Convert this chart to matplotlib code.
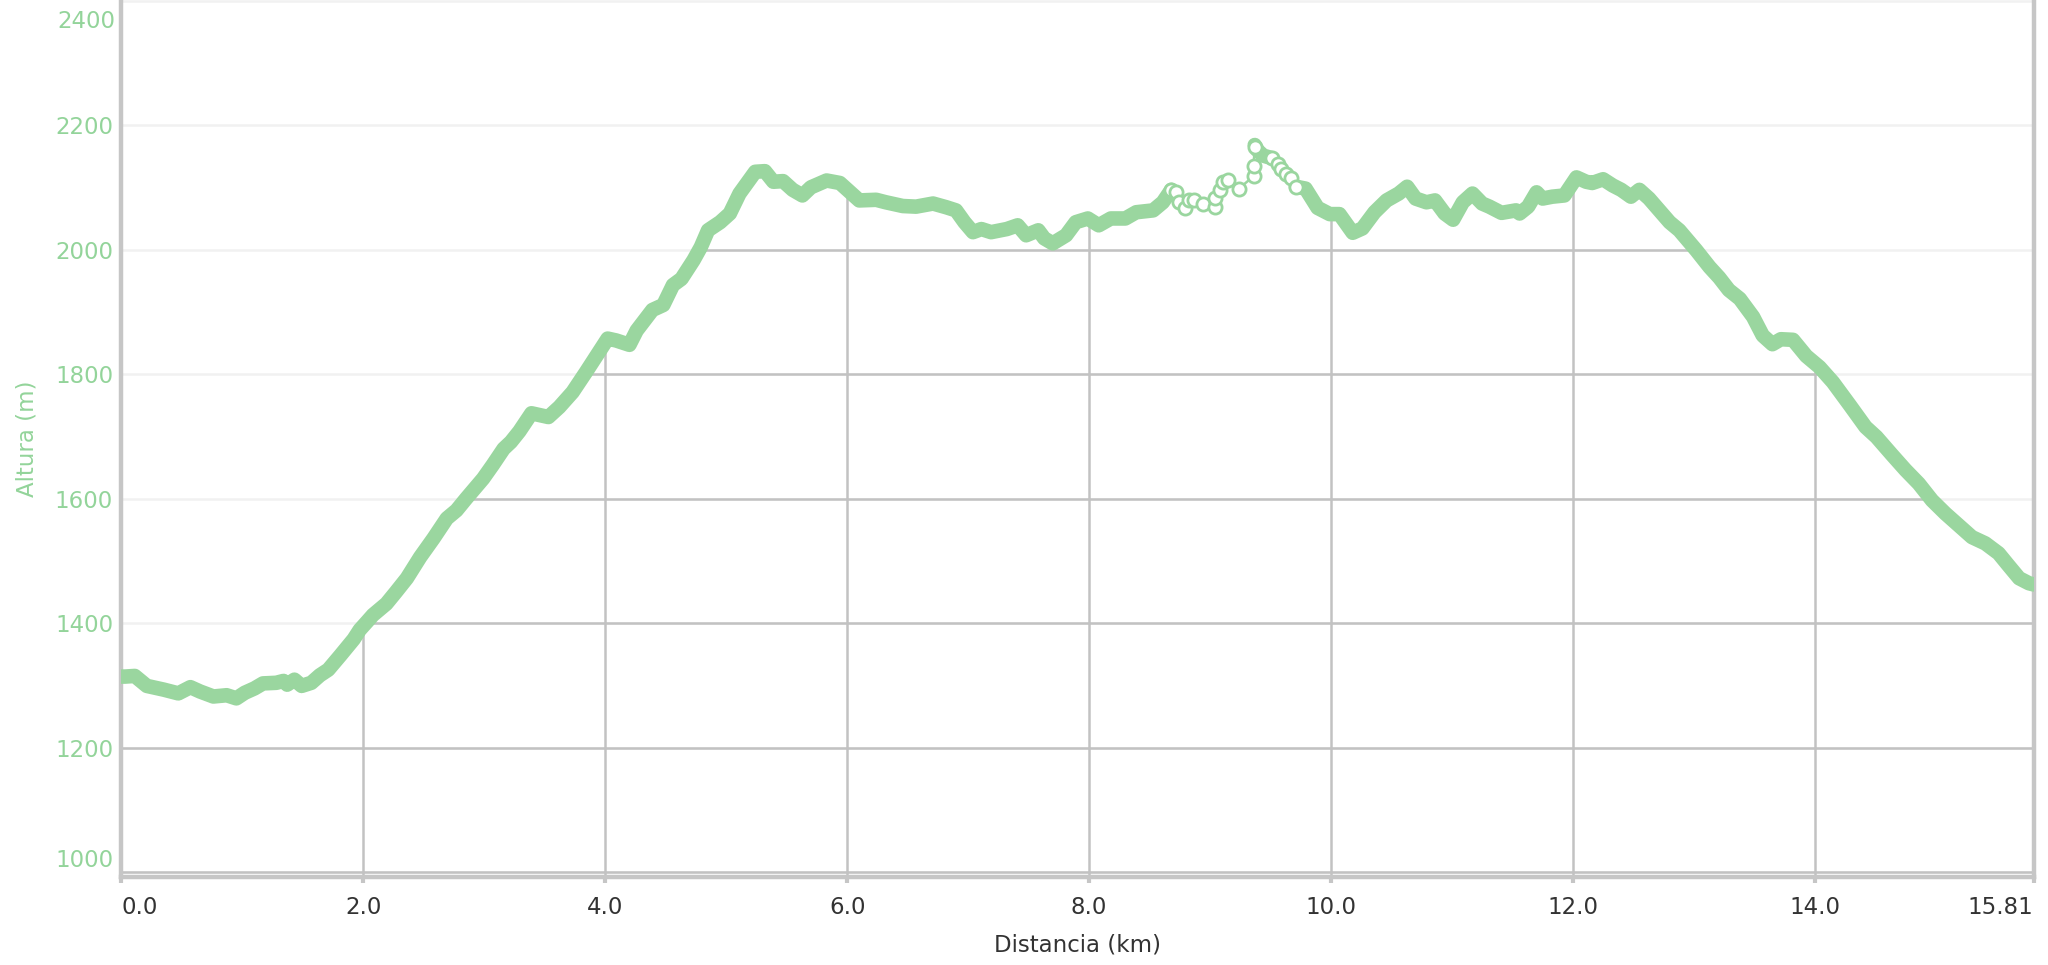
import matplotlib.pyplot as plt
from matplotlib.patches import Polygon
from matplotlib.transforms import offset_copy

# elevation profile read from the track (km, m)
km_climb = [0.0, 0.03, 0.11, 0.21, 0.35, 0.47, 0.57, 0.65, 0.76, 0.87, 0.95, 1.02,
            1.10, 1.17, 1.28, 1.34, 1.37, 1.43, 1.49, 1.57, 1.64, 1.71, 1.81, 1.92,
            1.97, 2.03, 2.08, 2.19, 2.27, 2.36, 2.47, 2.58, 2.69, 2.77, 2.85, 2.99,
            3.07, 3.16, 3.22, 3.29, 3.39, 3.53, 3.62, 3.73, 3.84, 4.02, 4.09, 4.20,
            4.26, 4.39, 4.48, 4.56, 4.63, 4.73, 4.79, 4.85, 4.95, 5.03, 5.11, 5.24,
            5.32, 5.39, 5.47, 5.55, 5.63, 5.70, 5.83, 5.94, 6.02, 6.10, 6.24, 6.32,
            6.46, 6.57, 6.71, 6.82, 6.90, 6.97, 7.04, 7.11, 7.19, 7.32, 7.41, 7.48,
            7.58, 7.63, 7.70, 7.81, 7.89, 7.99, 8.08, 8.18, 8.30, 8.39, 8.53, 8.61,
            8.68]
alt_climb = [1314, 1314, 1315, 1299, 1293, 1287, 1297, 1290, 1282, 1284, 1279, 1288,
             1295, 1303, 1304, 1307, 1301, 1309, 1299, 1304, 1316, 1325, 1348, 1374,
             1389, 1402, 1413, 1431, 1450, 1472, 1506, 1536, 1568, 1581, 1600, 1632,
             1654, 1680, 1691, 1708, 1737, 1731, 1747, 1771, 1803, 1857, 1854, 1847,
             1870, 1903, 1911, 1943, 1953, 1983, 2004, 2031, 2044, 2058, 2090, 2125,
             2126, 2109, 2110, 2096, 2087, 2100, 2111, 2107, 2093, 2079, 2080, 2076,
             2070, 2069, 2074, 2068, 2063, 2044, 2028, 2033, 2028, 2033, 2039, 2023,
             2031, 2018, 2010, 2023, 2044, 2050, 2039, 2050, 2050, 2060, 2063, 2076,
             2096]

# sparse GPS fixes (drawn as single circles)
km_gap = [8.68, 8.72, 8.74, 8.79, 8.83, 8.87, 8.94, 9.04, 9.04, 9.08, 9.11, 9.15,
          9.24, 9.36, 9.36, 9.37]
alt_gap = [2096, 2092, 2076, 2067, 2079, 2079, 2074, 2068, 2083, 2095, 2109, 2112,
           2098, 2118, 2134, 2165]

km_ridge = [9.37, 9.39, 9.44, 9.51]
alt_ridge = [2168, 2160, 2151, 2147]

km_gap2 = [9.51, 9.56, 9.59, 9.63, 9.67, 9.71]
alt_gap2 = [2147, 2138, 2130, 2121, 2115, 2101]

km_descent = [9.71, 9.79, 9.89, 9.99, 10.07, 10.18, 10.26, 10.36, 10.46, 10.56,
              10.63, 10.70, 10.79, 10.86, 10.94, 11.01, 11.09, 11.17, 11.25, 11.31,
              11.41, 11.53, 11.56, 11.63, 11.70, 11.75, 11.83, 11.93, 12.03, 12.11,
              12.16, 12.25, 12.33, 12.40, 12.48, 12.55, 12.63, 12.80, 12.88, 13.02,
              13.13, 13.21, 13.29, 13.38, 13.49, 13.57, 13.65, 13.72, 13.82, 13.93,
              14.04, 14.15, 14.29, 14.42, 14.51, 14.64, 14.75, 14.86, 14.97, 15.08,
              15.19, 15.30, 15.41, 15.52, 15.60, 15.69, 15.77, 15.81]
alt_descent = [2101, 2098, 2067, 2057, 2057, 2027, 2034, 2060, 2079, 2090,
               2101, 2082, 2076, 2079, 2058, 2048, 2076, 2090, 2074, 2069,
               2059, 2063, 2058, 2069, 2092, 2082, 2085, 2087, 2116, 2109,
               2107, 2113, 2103, 2096, 2085, 2096, 2082, 2044, 2031, 1999,
               1972, 1955, 1935, 1921, 1892, 1862, 1848, 1856, 1855, 1829,
               1811, 1787, 1750, 1715, 1699, 1670, 1646, 1624, 1597, 1576,
               1557, 1538, 1528, 1512, 1493, 1472, 1464, 1462]

x_ticks = [0, 2, 4, 6, 8, 10, 12, 14, 15.81]
x_labels = ['0.0', '2.0', '4.0', '6.0', '8.0', '10.0', '12.0', '14.0', '15.81']
y_ticks = [1000, 1200, 1400, 1600, 1800, 2000, 2200, 2400]

GREEN = '#9ad69f'
LABEL_GREEN = '#93d49a'
AXIS_GREY = '#c6c6c6'
GRID_DARK = '#c2c2c2'
GRID_LIGHT = '#f1f1f1'

plt.rcParams['font.family'] = ['DejaVu Sans']

fig = plt.figure(figsize=(20.48, 9.65), dpi=100)
ax = fig.add_axes([0.0593, 0.0912, 0.9337, 0.9088])
ax.set_xlim(0, 15.81)
ax.set_ylim(992, 2401)

# area below the profile, used to clip the darker grid
all_km = km_climb + km_gap + km_ridge + km_gap2 + km_descent
all_alt = alt_climb + alt_gap + alt_ridge + alt_gap2 + alt_descent
verts = [(0, 900)] + list(zip(all_km, all_alt)) + [(15.81, 900)]
area = Polygon(verts, closed=True, facecolor='none', edgecolor='none')
ax.add_patch(area)

for y in y_ticks:
    ax.axhline(y, color=GRID_LIGHT, lw=1.8, zorder=1)
    ln = ax.axhline(y, color=GRID_DARK, lw=1.8, zorder=2)
    ln.set_clip_path(area)
for x in x_ticks[1:-1]:
    ln = ax.axvline(x, color=GRID_DARK, lw=1.8, zorder=2)
    ln.set_clip_path(area)

# the profile
for xs, ys in [(km_climb, alt_climb), (km_ridge, alt_ridge),
               (km_descent, alt_descent)]:
    ax.plot(xs, ys, color=GREEN, lw=10.5, solid_capstyle='round',
            solid_joinstyle='round', zorder=4)
for xs, ys in [(km_gap, alt_gap), (km_gap2, alt_gap2)]:
    ax.plot(xs, ys, '-o', color=GREEN, lw=1.8, ms=9.5, mew=2.0,
            mfc='white', mec=GREEN, zorder=5)

# axes styling
for side in ['left', 'bottom', 'right']:
    ax.spines[side].set_color(AXIS_GREY)
    ax.spines[side].set_linewidth(3.2)
ax.spines['top'].set_visible(False)

ax.set_xticks(x_ticks)
ax.set_xticklabels(x_labels)
ax.set_yticks(y_ticks)
ax.set_yticklabels([str(v) for v in y_ticks[:-1]] + [''])
ax.tick_params(axis='x', length=4, width=3, color=AXIS_GREY, pad=10,
               labelsize=16.5, labelcolor='#333333')
ax.tick_params(axis='y', length=0, pad=6, labelsize=16.5, labelcolor=LABEL_GREEN)

xl = ax.get_xticklabels()
xl[0].set_horizontalalignment('left')
xl[-1].set_horizontalalignment('right')
yl = ax.get_yticklabels()
yl[0].set_verticalalignment('bottom')

# top label sits a little below its grid line
top_tr = offset_copy(ax.get_yaxis_transform(), fig=fig, x=-6, y=-9, units='dots')
ax.text(0, y_ticks[-1], str(y_ticks[-1]), transform=top_tr, ha='right', va='top',
        fontsize=16.5, color=LABEL_GREEN)

ax.set_xlabel('Distancia (km)', fontsize=16.5, color='#333333', labelpad=10)
ax.set_ylabel('Altura (m)', fontsize=16.5, color=LABEL_GREEN, labelpad=12)

plt.savefig('out.png', dpi=100)
